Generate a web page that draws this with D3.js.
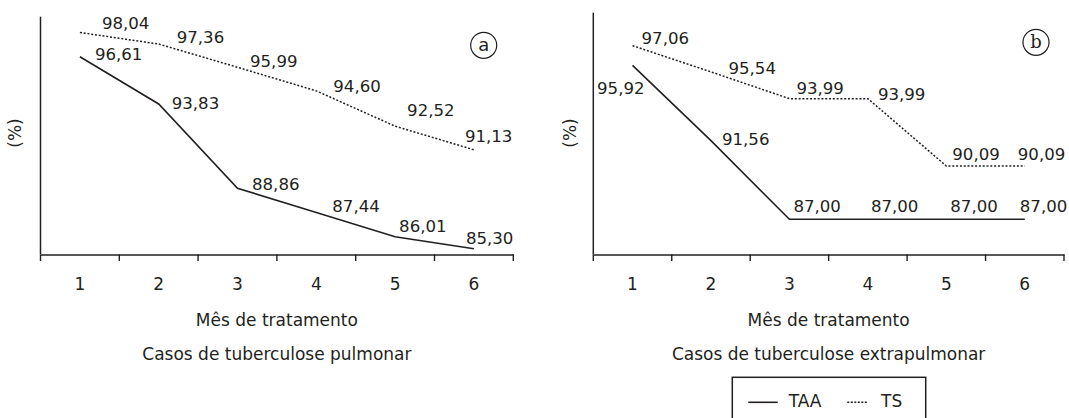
<!DOCTYPE html>
<html>
<head>
<meta charset="utf-8">
<script src="https://cdn.jsdelivr.net/npm/d3@7"></script>
<style>
  html, body { margin: 0; padding: 0; background: #fff; }
  svg { display: block; }
  text { font-family: "DejaVu Sans", sans-serif; fill: #231f20; }
</style>
</head>
<body>
<svg id="chart" width="1069" height="418"></svg>
<script>
// ---------- data ----------
const months = ["1", "2", "3", "4", "5", "6"];
const seriesNames = ["TAA", "TS"];
const taaPulmonar = [96.61, 93.83, 88.86, 87.44, 86.01, 85.30];
const tsPulmonar  = [98.04, 97.36, 95.99, 94.60, 92.52, 91.13];
const taaExtra    = [95.92, 91.56, 87.00, 87.00, 87.00, 87.00];
const tsExtra     = [97.06, 95.54, 93.99, 93.99, 90.09, 90.09];
const panelTitles = ["Casos de tuberculose pulmonar", "Casos de tuberculose extrapulmonar"];
const panelLetters = ["a", "b"];
const xTitle = "Mês de tratamento";
const yTitle = "(%)";

// ---------- layout (label offsets relative to the data point) ----------
const labelOffsetsPulm = {
  TAA: [[15, 3], [13, 5], [14.5, 1.5], [16, 0], [4, -5], [-8, -5]],
  TS:  [[22, -3], [18, -1], [12.5, 0], [17, 1], [12, -10], [-9, -8]]
};
const labelOffsetsExtra = {
  TAA: [[-35.5, 29], [11, 4], [4, -7], [3, -7], [4, -7], [-5, -7]],
  TS:  [[9, -2], [17.5, 2], [7, -5], [10, 1], [6, -6], [-7, -6]]
};

const fmt = v => d3.format(".2f")(v).replace(".", ",");
const svg = d3.select("#chart");
const ink = "#231f20";

const panels = [
  { x0: 40.5, x1: 513.3, top: 16.7, bottom: 254.5, taa: taaPulmonar, ts: tsPulmonar,
    offsets: labelOffsetsPulm, title: panelTitles[0], letter: panelLetters[0],
    letterPos: [483.7, 45.3], letterFont: "DejaVu Sans", yLabelX: 21 },
  { x0: 593.3, x1: 1064, top: 12.7, bottom: 254.5, taa: taaExtra, ts: tsExtra,
    offsets: labelOffsetsExtra, title: panelTitles[1], letter: panelLetters[1],
    letterPos: [1036, 42.3], letterFont: "DejaVu Serif", yLabelX: 576 }
];

panels.forEach(p => {
  const g = svg.append("g");
  const x = d3.scaleBand().domain(months).range([p.x0, p.x1]).padding(0);
  const y = d3.scaleLinear().domain([84.96, 98.97]).range([p.bottom, p.top]);
  const cx = m => x(m) + x.bandwidth() / 2;

  // y axis line
  g.append("line")
    .attr("x1", p.x0).attr("x2", p.x0)
    .attr("y1", p.top).attr("y2", p.bottom)
    .attr("stroke", ink).attr("stroke-width", 1.5);

  // x axis (labels at band centres)
  const ax = g.append("g").attr("transform", `translate(0,${p.bottom})`)
    .call(d3.axisBottom(x).tickSize(0).tickSizeOuter(0).tickPadding(23));
  ax.select(".domain").attr("stroke", ink).attr("stroke-width", 1.6);
  ax.selectAll(".tick text").style("font-size", "17px").style("font-family", "DejaVu Sans")
    .attr("fill", ink);

  // tick marks at band boundaries
  const bounds = months.map(m => x(m)).concat([p.x1]);
  g.selectAll(".bt").data(bounds).enter().append("line")
    .attr("x1", d => d).attr("x2", d => d)
    .attr("y1", p.bottom).attr("y2", p.bottom + 6.5)
    .attr("stroke", ink).attr("stroke-width", 1.4);

  // lines
  const line = d3.line().x((d, i) => cx(months[i])).y(d => y(d));
  g.append("path").datum(p.ts).attr("d", line)
    .attr("fill", "none").attr("stroke", ink).attr("stroke-width", 1.5)
    .attr("stroke-dasharray", "2,1.8");
  g.append("path").datum(p.taa).attr("d", line)
    .attr("fill", "none").attr("stroke", ink).attr("stroke-width", 1.6);

  // value labels
  [["TAA", p.taa], ["TS", p.ts]].forEach(([name, vals]) => {
    g.selectAll(".lbl-" + name).data(vals).enter().append("text")
      .attr("x", (d, i) => cx(months[i]) + p.offsets[name][i][0])
      .attr("y", (d, i) => y(d) + p.offsets[name][i][1])
      .style("font-size", "16.6px")
      .text(d => fmt(d));
  });

  // axis titles
  const mid = (p.x0 + p.x1) / 2;
  g.append("text").attr("x", mid).attr("y", 325.5).attr("text-anchor", "middle")
    .style("font-size", "17px").text(xTitle);
  g.append("text").attr("x", mid).attr("y", 359.5).attr("text-anchor", "middle")
    .style("font-size", "17px").text(p.title);

  // y label
  g.append("text")
    .attr("transform", `translate(${p.yLabelX},133) rotate(-90)`)
    .attr("text-anchor", "middle").style("font-size", "17px").text(yTitle);

  // panel letter in circle
  g.append("circle").attr("cx", p.letterPos[0]).attr("cy", p.letterPos[1]).attr("r", 13)
    .attr("fill", "none").attr("stroke", ink).attr("stroke-width", 1.2);
  g.append("text").attr("x", p.letterPos[0]).attr("y", p.letterPos[1] + 6)
    .attr("text-anchor", "middle").style("font-size", "18px")
    .style("font-family", p.letterFont).text(p.letter);
});

// ---------- legend ----------
const lg = svg.append("g");
lg.append("rect").attr("x", 732.3).attr("y", 377.3).attr("width", 193.4).attr("height", 60)
  .attr("fill", "none").attr("stroke", ink).attr("stroke-width", 1.5);
const legendItems = [
  { name: seriesNames[0], x: 748.3, dash: null },
  { name: seriesNames[1], x: 847.3, dash: "2,1.5" }
];
legendItems.forEach((it, i) => {
  lg.append("line").attr("x1", it.x).attr("x2", it.x + (i === 0 ? 29.4 : 20))
    .attr("y1", 402.3).attr("y2", 402.3)
    .attr("stroke", ink).attr("stroke-width", 1.6)
    .attr("stroke-dasharray", it.dash);
  lg.append("text").attr("x", i === 0 ? 788.7 : 881).attr("y", 407.3)
    .style("font-size", "17px").text(it.name);
});
</script>
</body>
</html>
